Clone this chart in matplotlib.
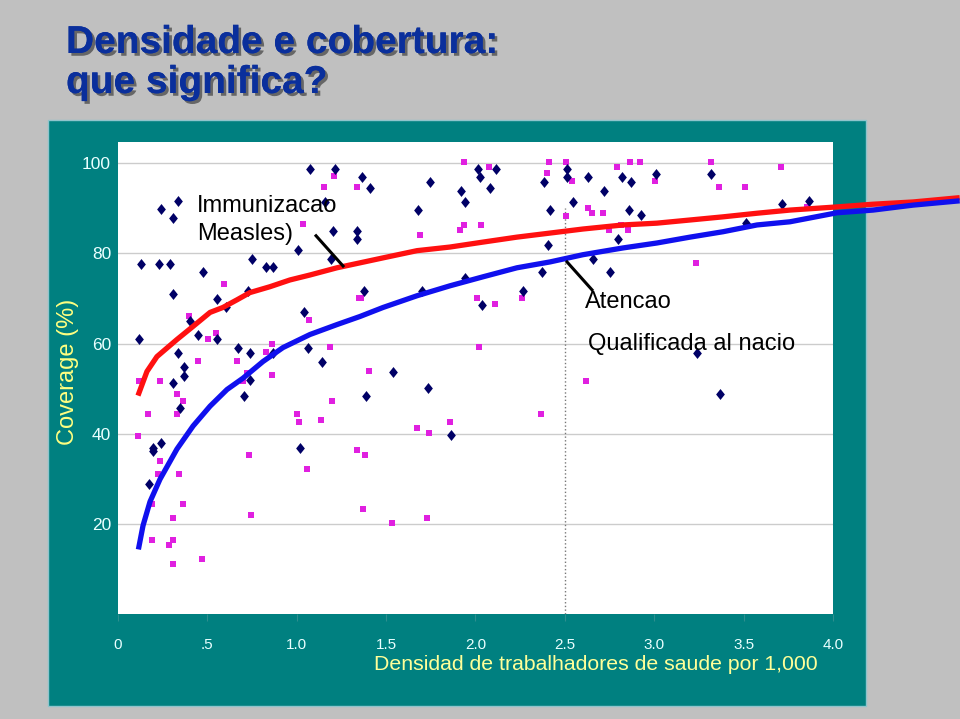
import matplotlib.pyplot as plt
import matplotlib.patheffects as pe
from matplotlib.patches import Rectangle

# measles immunisation coverage, one diamond per country
measles_x = [1.074, 1.214, 0.241, 0.336, 0.308, 0.129, 0.229, 0.291, 0.308, 0.476,
             0.750, 0.828, 0.867, 0.554, 0.403, 0.448, 0.554, 0.336, 0.117, 0.369,
             0.369, 0.308, 0.671, 0.738, 0.727, 1.007, 1.041, 1.063, 1.141, 1.203,
             1.192, 1.337, 1.337, 1.158, 0.867, 0.738, 0.604, 0.347, 0.196, 0.196,
             0.241, 0.173, 0.705, 1.018, 1.365, 1.410, 1.745, 1.678, 2.014, 2.025,
             2.115, 2.081, 1.919, 1.941, 2.383, 2.417, 2.512, 2.512, 2.545, 2.629,
             2.406, 2.372, 2.266, 1.941, 2.036, 1.701, 1.376, 1.538, 1.734, 2.657,
             1.387, 1.863, 2.820, 2.870, 2.719, 2.859, 2.926, 3.010, 3.317, 2.797,
             2.752, 3.513, 3.715, 3.866, 3.239, 3.368]
measles_y = [98.7, 98.7, 89.8, 91.6, 87.8, 77.7, 77.7, 77.7, 71.0, 75.9,
             78.8, 77.0, 77.0, 69.9, 65.1, 62.0, 60.9, 57.8, 60.9, 54.7,
             52.9, 51.2, 58.9, 57.8, 71.7, 80.8, 66.9, 58.9, 56.0, 85.0,
             78.8, 85.0, 83.2, 91.4, 57.8, 51.8, 68.0, 45.6, 36.8, 36.1,
             37.9, 28.8, 48.3, 36.8, 96.9, 94.5, 95.8, 89.6, 98.7, 96.9,
             98.7, 94.5, 93.8, 91.4, 95.8, 89.6, 98.7, 96.9, 91.4, 96.9,
             81.9, 75.9, 71.7, 74.6, 68.6, 71.7, 71.7, 53.6, 50.1, 78.8,
             48.3, 39.7, 96.9, 95.8, 93.8, 89.6, 88.5, 97.6, 97.6, 83.2,
             75.9, 86.7, 90.9, 91.6, 57.8, 48.7]

# skilled attendance at birth, one square per country
births_x = [1.208, 1.152, 1.337, 1.035, 0.593, 0.397, 0.503, 0.548, 0.448, 0.666,
            0.828, 0.862, 0.862, 0.722, 1.069, 1.186, 0.235, 0.117, 1.348, 0.168,
            0.330, 0.364, 0.330, 0.112, 0.235, 0.224, 0.341, 0.364, 0.190, 0.308,
            0.190, 0.308, 0.285, 0.308, 0.470, 0.699, 1.001, 1.013, 1.136, 1.197,
            0.733, 1.057, 0.744, 1.337, 1.936, 2.076, 2.411, 2.506, 2.400, 2.540,
            2.506, 2.629, 2.652, 1.690, 1.913, 1.936, 2.031, 1.359, 2.008, 2.109,
            2.260, 2.020, 1.404, 2.618, 2.366, 1.673, 1.740, 1.857, 1.382, 1.371,
            1.533, 1.729, 2.792, 2.864, 2.920, 3.004, 2.713, 2.814, 2.747, 2.853,
            3.317, 3.362, 3.508, 3.709, 3.234, 3.855]
births_y = [97.1, 94.7, 94.7, 86.5, 73.3, 66.0, 61.1, 62.4, 56.2, 56.2,
            58.2, 60.0, 53.1, 53.4, 65.3, 59.3, 51.6, 51.6, 70.2, 44.3,
            48.9, 47.2, 44.3, 39.4, 33.9, 31.0, 31.0, 24.4, 24.4, 21.3,
            16.5, 16.5, 15.4, 11.2, 12.3, 51.6, 44.3, 42.5, 43.0, 47.2,
            35.2, 32.2, 22.0, 36.4, 100.2, 99.1, 100.2, 100.2, 97.8, 96.0,
            88.3, 90.1, 88.9, 84.1, 85.2, 86.3, 86.3, 70.2, 70.2, 68.8,
            70.2, 59.3, 54.0, 51.6, 44.3, 41.2, 40.1, 42.5, 35.2, 23.3,
            20.2, 21.3, 99.1, 100.2, 100.2, 96.0, 88.9, 86.3, 85.2, 85.2,
            100.2, 94.7, 94.7, 99.1, 77.9, 90.3]

# fitted curves
measles_fit_x = [0.117, 0.162, 0.218, 0.330, 0.420, 0.515, 0.587, 0.666, 0.738, 0.850,
                 0.962, 1.074, 1.225, 1.354, 1.483, 1.673, 1.857, 2.042, 2.232, 2.417,
                 2.601, 2.825, 3.015, 3.200, 3.385, 3.575, 3.759, 4.022, 4.224, 4.448, 4.694]
measles_fit_y = [49.0, 53.8, 57.1, 60.9, 63.8, 66.9, 68.0, 69.7, 71.3, 72.6,
                 74.1, 75.2, 76.8, 77.9, 79.0, 80.6, 81.4, 82.5, 83.6, 84.5,
                 85.4, 86.3, 86.7, 87.4, 88.1, 88.9, 89.6, 90.3, 90.9, 91.4, 92.3]
births_fit_x = [0.117, 0.140, 0.179, 0.235, 0.330, 0.420, 0.515, 0.610, 0.699, 0.811,
                0.923, 1.074, 1.225, 1.354, 1.483, 1.673, 1.857, 2.042, 2.232, 2.417,
                2.601, 2.825, 3.015, 3.200, 3.385, 3.575, 3.759, 4.022, 4.224, 4.448, 4.694]
births_fit_y = [14.9, 19.6, 24.9, 29.9, 36.6, 41.7, 46.1, 49.8, 52.3, 56.0,
                59.1, 62.0, 64.2, 66.0, 68.0, 70.6, 72.8, 74.8, 76.8, 78.1,
                79.7, 81.2, 82.3, 83.6, 84.8, 86.3, 87.0, 89.0, 89.6, 90.7, 91.6]

x_ticks = [0, 0.5, 1.0, 1.5, 2.0, 2.5, 3.0, 3.5, 4.0]
x_tick_labels = ['0', '.5', '1.0', '1.5', '2.0', '2.5', '3.0', '3.5', '4.0']
y_ticks = [20, 40, 60, 80, 100]

plt.rcParams['font.family'] = ['Liberation Sans', 'DejaVu Sans']

fig = plt.figure(figsize=(9.6, 7.19), dpi=100, facecolor='#c0c0c0')

# teal chart panel, behind the axes
fig.patches.append(Rectangle((0.05, 0.018), 0.852, 0.815, transform=fig.transFigure,
                             facecolor='#008080', edgecolor='#8fc4cc', linewidth=1, zorder=-10))

ax = fig.add_axes([0.1229, 0.146, 0.7448, 0.6565])
ax.set_facecolor('white')
ax.set_xlim(0, 4.0)
ax.set_ylim(0, 104.7)
for s in ax.spines.values():
    s.set_visible(False)

ax.set_yticks(y_ticks)
ax.set_xticks(x_ticks)
ax.set_xticklabels(x_tick_labels)
ax.grid(axis='y', color='#cccccc', linewidth=1)
ax.set_axisbelow(True)
ax.tick_params(axis='y', length=0, pad=5, labelsize=12.5, labelcolor='#eaffff')
ax.tick_params(axis='x', length=5, color='#2d8f8f', pad=12, labelsize=11, labelcolor='#eaffff')

ax.axvline(2.5, ymax=90 / 104.7, color='#777777', linewidth=1, linestyle=':')

# slightly tall diamond like the original markers
tall_diamond = [(-0.8, 0), (0, 1), (0.8, 0), (0, -1), (-0.8, 0)]
ax.scatter(births_x, births_y, marker='s', s=22, color='#e020e0', linewidths=0, zorder=3)
ax.scatter(measles_x, measles_y, marker=tall_diamond, s=62, color='#000066', linewidths=0, zorder=3)

ax.plot(measles_fit_x, measles_fit_y, color='#ff1010', linewidth=3.8, clip_on=False, zorder=4)
ax.plot(births_fit_x, births_fit_y, color='#1010ee', linewidth=3.8, clip_on=False, zorder=5)

ax.text(0.442, 90.5, 'Immunizacao', fontsize=17, va='center', zorder=6)
ax.text(0.442, 84.4, 'Measles)', fontsize=17, va='center', zorder=6)
ax.plot([1.108, 1.259], [83.9, 77.2], color='black', linewidth=2.2, zorder=6)
ax.text(2.613, 69.3, 'Atencao', fontsize=17, va='center', zorder=6)
ax.text(2.629, 59.8, 'Qualificada al nacio', fontsize=17, va='center', zorder=6)
ax.plot([2.512, 2.652], [78.1, 71.9], color='black', linewidth=2.2, zorder=6)

fig.text(818 / 960, 1 - 665 / 719, 'Densidad de trabalhadores de saude por 1,000',
         fontsize=15.3, color='#ffff99', ha='right', va='center')
fig.text(68 / 960, 1 - 372 / 719, 'Coverage (%)', fontsize=17, color='#ffff80',
         rotation=90, ha='center', va='center')

shadow = [pe.withSimplePatchShadow(offset=(2, -2), shadow_rgbFace='#404040', alpha=0.7), pe.Normal()]
fig.text(66 / 960, 1 - 53 / 719, 'Densidade e cobertura:', fontsize=28, fontweight='bold',
         color='#0a2f9c', va='baseline', path_effects=shadow)
fig.text(66 / 960, 1 - 93 / 719, 'que significa?', fontsize=28, fontweight='bold',
         color='#0a2f9c', va='baseline', path_effects=shadow)

fig.savefig('out.png', dpi=100, facecolor=fig.get_facecolor())
